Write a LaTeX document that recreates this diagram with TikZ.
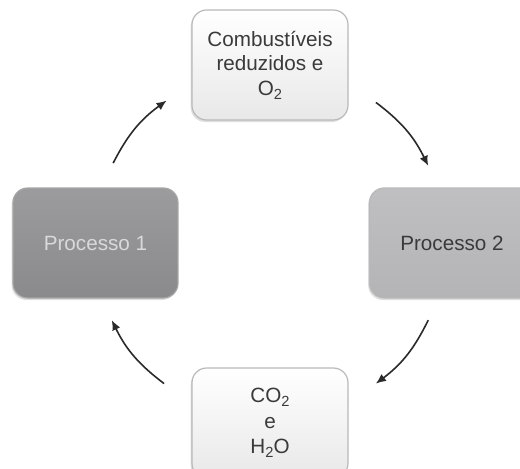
\documentclass[tikz,border=0pt]{standalone}
\usepackage{fontspec}
\setmainfont{Liberation Sans}
\usetikzlibrary{arrows.meta,shadows,calc}
\definecolor{txtdark}{HTML}{3A3A3A}
\definecolor{boxdark}{HTML}{8A8A8D}
\definecolor{boxmid}{HTML}{B4B4B7}
\definecolor{arrowc}{HTML}{2A2A2A}
\newcommand{\subtwo}{\raisebox{-0.35ex}{\fontsize{11}{11}\selectfont 2}}
\tikzset{
  basebox/.style={rounded corners=11pt, line width=0.9pt, inner sep=0pt, align=center,
    font=\fontsize{15.5}{18.5}\selectfont,
    drop shadow={opacity=0.25, shadow xshift=-1pt, shadow yshift=-1.5pt}},
  lightbox/.style={basebox, draw=gray!55, top color=white, bottom color=gray!18, text=txtdark,
    minimum width=117pt, minimum height=82.5pt},
  darkbox/.style={basebox, draw=gray!70, top color=boxdark!85!white, bottom color=boxdark, text=white!85!black,
    minimum width=123.75pt, minimum height=82.5pt},
  midbox/.style={basebox, draw=gray!55, top color=boxmid!85!white, bottom color=boxmid, text=txtdark,
    minimum width=123.75pt, minimum height=82.5pt},
  cyc/.style={-{Latex[length=7.5pt,width=6.5pt]}, line width=1.2pt, draw=arrowc, bend left=13.5}
}
\begin{document}
\begin{tikzpicture}[x=0.75pt,y=0.75pt]
\useasboundingbox (0,0) rectangle (520,-468);
\node[lightbox] (top) at (270,-65) {Combustíveis\\reduzidos e\\O\subtwo};
\node[darkbox] (p1) at (95.5,-243) {Processo 1};
\node[midbox] (p2) at (452,-243) {Processo 2};
\node[lightbox, font=\fontsize{15.5}{19}\selectfont] (bot) at (270,-423) {CO\subtwo\\e\\H\subtwo O};
\coordinate (c) at (270,-243);
\coordinate (a1s) at ($(c)+(153:176)$);
\coordinate (a1e) at ($(c)+(126:176)$);
\coordinate (a2s) at ($(c)+(53:176)$);
\coordinate (a2e) at ($(c)+(26:176)$);
\coordinate (a3s) at ($(c)+(-26:176)$);
\coordinate (a3e) at ($(c)+(-53:176)$);
\coordinate (a4s) at ($(c)+(-127:176)$);
\coordinate (a4e) at ($(c)+(-154:176)$);
\draw[cyc] (a1s) to (a1e);
\draw[cyc] (a2s) to (a2e);
\draw[cyc] (a3s) to (a3e);
\draw[cyc] (a4s) to (a4e);
\end{tikzpicture}
\end{document}
